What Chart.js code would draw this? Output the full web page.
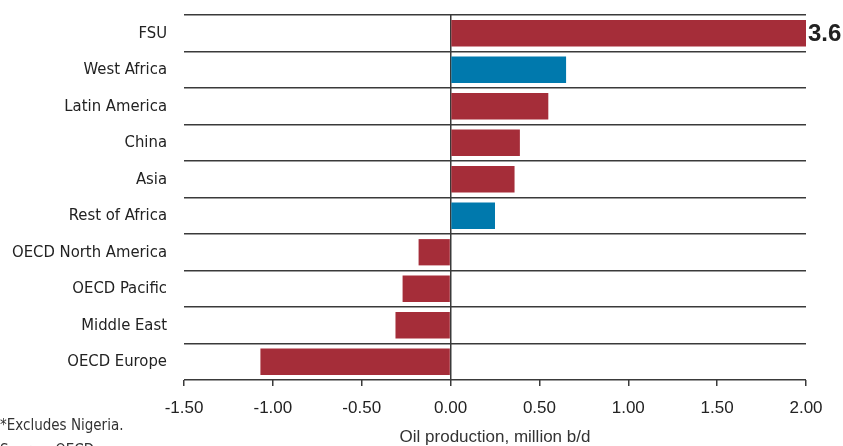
<!DOCTYPE html>
<html>
<head>
<meta charset="utf-8">
<script src="https://cdn.jsdelivr.net/npm/chart.js@4"></script>
<style>
  html, body { margin: 0; padding: 0; background: #fff; }
  #wrap { position: relative; width: 843px; height: 446px; overflow: hidden; }
</style>
</head>
<body>
<div id="wrap"><canvas id="c" width="843" height="446"></canvas></div>
<script>
// Change in oil production by region, million b/d
const regions = ['FSU', 'West Africa', 'Latin America', 'China', 'Asia', 'Rest of Africa',
                 'OECD North America', 'OECD Pacific', 'Middle East', 'OECD Europe'];
const production = [3.6, 0.65, 0.55, 0.39, 0.36, 0.25, -0.18, -0.27, -0.31, -1.07];
const africaRegions = ['West Africa', 'Rest of Africa'];
const xTicks = [-1.5, -1.0, -0.5, 0.0, 0.5, 1.0, 1.5, 2.0];
const axisTitle = 'Oil production, million b/d';
const footnotes = ['*Excludes Nigeria.', 'Source: OECD'];

const RED = '#a52d39';
const BLUE = '#0079ad';
const INK = '#222222';
const LINE = '#3a3a3a';
const narrow = '"Liberation Sans Narrow", "DejaVu Sans Condensed", sans-serif';
const regular = '"Liberation Sans", Arial, sans-serif';

const xMin = xTicks[0], xMax = xTicks[xTicks.length - 1];

// Writes the value of bars that run past the axis end, and the footnotes
const extrasPlugin = {
  id: 'extras',
  afterDatasetsDraw(chart) {
    const { ctx, chartArea } = chart;
    const meta = chart.getDatasetMeta(0);
    ctx.save();
    ctx.fillStyle = INK;
    ctx.font = 'bold 24px ' + regular;
    ctx.textAlign = 'left';
    ctx.textBaseline = 'middle';
    production.forEach((v, i) => {
      if (v > xMax) {
        const bar = meta.data[i];
        ctx.fillText(v.toFixed(1), chartArea.right + 2, bar.y + 1);
      }
    });
    ctx.font = '15px ' + narrow;
    ctx.fillStyle = '#333';
    ctx.textBaseline = 'alphabetic';
    ctx.fillText(footnotes[0], 0, 430);
    ctx.fillText(footnotes[1], 0, 455);
    ctx.restore();
  }
};

new Chart(document.getElementById('c'), {
  type: 'bar',
  data: {
    labels: regions,
    datasets: [{
      data: production,
      backgroundColor: regions.map(r => africaRegions.includes(r) ? BLUE : RED),
      borderWidth: 0,
      categoryPercentage: 1,
      barPercentage: 0.72
    }]
  },
  options: {
    indexAxis: 'y',
    responsive: false,
    animation: false,
    events: [],
    layout: { padding: { top: 15, right: 37, left: 0, bottom: 0 } },
    plugins: { legend: { display: false }, tooltip: { enabled: false } },
    scales: {
      x: {
        type: 'linear',
        min: xMin,
        max: xMax,
        afterBuildTicks(scale) { scale.ticks = xTicks.map(v => ({ value: v })); },
        afterFit(scale) { scale.height = 66; },
        ticks: {
          callback: v => Number(v).toFixed(2),
          color: INK,
          font: { family: regular, size: 17 },
          padding: 12,
          maxRotation: 0
        },
        grid: {
          color: ctx => (ctx.tick && ctx.tick.value === 0) ? LINE : 'rgba(0,0,0,0)',
          tickColor: LINE,
          lineWidth: 1.5,
          tickLength: 6
        },
        border: { display: false },
        title: {
          display: true,
          text: axisTitle,
          color: '#333',
          font: { family: regular, size: 17 },
          padding: { top: 4, bottom: -2 }
        }
      },
      y: {
        afterFit(scale) {
          scale.width = 184;
          scale.paddingTop = 0;
          scale.paddingBottom = 0;
        },
        ticks: {
          color: INK,
          font: { family: narrow, size: 16.5 },
          padding: 17
        },
        grid: {
          offset: true,
          color: LINE,
          lineWidth: 1.5,
          drawTicks: false
        },
        border: { display: false }
      }
    }
  },
  plugins: [extrasPlugin]
});
</script>
</body>
</html>
